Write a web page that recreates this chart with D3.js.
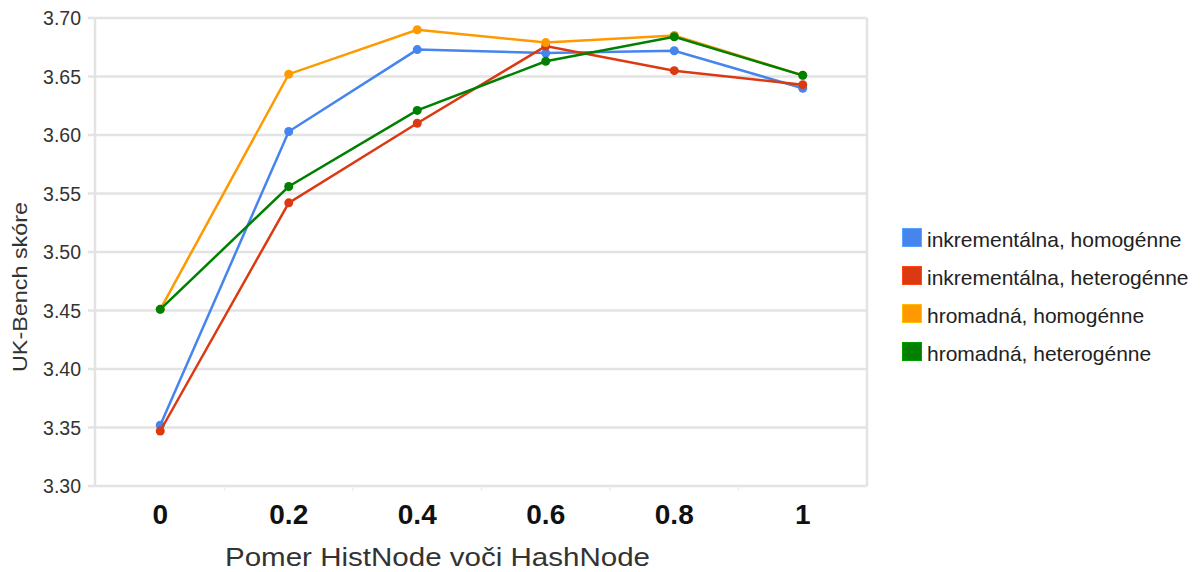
<!DOCTYPE html>
<html><head><meta charset="utf-8">
<script src="https://cdn.jsdelivr.net/npm/d3@7"></script>
<style>body{margin:0;background:#fff}svg{display:block}</style>
</head><body><svg id="c" width="1202" height="572"></svg>
<script>
const categories = ["0","0.2","0.4","0.6","0.8","1"];
const seriesNames = ["inkrementálna, homogénne","inkrementálna, heterogénne","hromadná, homogénne","hromadná, heterogénne"];
const incHom = [3.352,3.603,3.673,3.670,3.672,3.640];
const incHet = [3.347,3.542,3.610,3.676,3.655,3.643];
const bulkHom = [3.451,3.652,3.690,3.679,3.685,3.651];
const bulkHet = [3.451,3.556,3.621,3.663,3.684,3.651];
const yTicks = [3.30,3.35,3.40,3.45,3.50,3.55,3.60,3.65,3.70];
const colors = ["#4684ee","#dc3912","#ff9900","#008000"];
const series = [incHom,incHet,bulkHom,bulkHet];

const svg = d3.select("#c");
const L=96,R=867,T=18,B=486;
const FONT = "'Liberation Sans', Arimo, Arial, sans-serif";
const x = d3.scaleBand().domain(categories).range([L,R]);
const y = d3.scaleLinear().domain([3.30,3.70]).range([B,T]);

// gridlines
svg.append("g").selectAll("line").data(yTicks).join("line")
  .attr("x1",88).attr("x2",R).attr("y1",d=>y(d)).attr("y2",d=>y(d))
  .attr("stroke","#e3e3e3").attr("stroke-width",2.5);
svg.append("line").attr("x1",L-1).attr("x2",L-1).attr("y1",T).attr("y2",B).attr("stroke","#e3e3e3").attr("stroke-width",2.5);
svg.append("line").attr("x1",R).attr("x2",R).attr("y1",T).attr("y2",B).attr("stroke","#e3e3e3").attr("stroke-width",2.5);
svg.append("g").selectAll("line").data(categories.slice(1)).join("line")
  .attr("x1",d=>x(d)).attr("x2",d=>x(d)).attr("y1",B).attr("y2",B+5)
  .attr("stroke","#eeeeee").attr("stroke-width",1.5);

// y tick labels
svg.append("g").selectAll("text").data(yTicks).join("text")
  .attr("x",81).attr("y",d=>y(d)).attr("dy","0.36em").attr("text-anchor","end")
  .attr("font-family",FONT).attr("font-size",19.5).attr("fill","#333")
  .text(d=>d.toFixed(2));
// x tick labels
svg.append("g").selectAll("text").data(categories).join("text")
  .attr("x",d=>x(d)+x.bandwidth()/2).attr("y",524).attr("text-anchor","middle")
  .attr("font-family",FONT).attr("font-weight","bold").attr("font-size",28).attr("fill","#111")
  .text(d=>d);
// axis titles
svg.append("text").attr("x",437.5).attr("y",566).attr("text-anchor","middle")
  .attr("font-family",FONT).attr("font-size",26).attr("fill","#333")
  .attr("textLength",425).attr("lengthAdjust","spacingAndGlyphs")
  .text("Pomer HistNode voči HashNode");
svg.append("text").attr("transform","translate(27,287) rotate(-90)").attr("text-anchor","middle")
  .attr("font-family",FONT).attr("font-size",20).attr("fill","#333")
  .attr("textLength",170).attr("lengthAdjust","spacingAndGlyphs")
  .text("UK-Bench skóre");

// lines
const line = d3.line().x((d,i)=>x(categories[i])+x.bandwidth()/2).y(d=>y(d));
series.forEach((s,k)=>{
  const g = svg.append("g");
  g.append("path").attr("d",line(s)).attr("fill","none").attr("stroke",colors[k]).attr("stroke-width",2.5);
  g.selectAll("circle").data(s).join("circle")
    .attr("cx",(d,i)=>x(categories[i])+x.bandwidth()/2).attr("cy",d=>y(d)).attr("r",4.5).attr("fill",colors[k]);
});

// legend
const lg = svg.append("g").selectAll("g").data(seriesNames).join("g")
  .attr("transform",(d,i)=>`translate(902,${228+i*38})`);
lg.append("rect").attr("x",0.5).attr("y",0.5).attr("width",19).attr("height",18)
  .attr("fill",(d,i)=>colors[i]).attr("stroke",(d,i)=>d3.color(colors[i]).brighter(0.6)).attr("stroke-width",1);
lg.append("text").attr("x",25).attr("y",18.5)
  .attr("font-family",FONT).attr("font-size",21).attr("fill","#222")
  .text(d=>d);
</script></body></html>
